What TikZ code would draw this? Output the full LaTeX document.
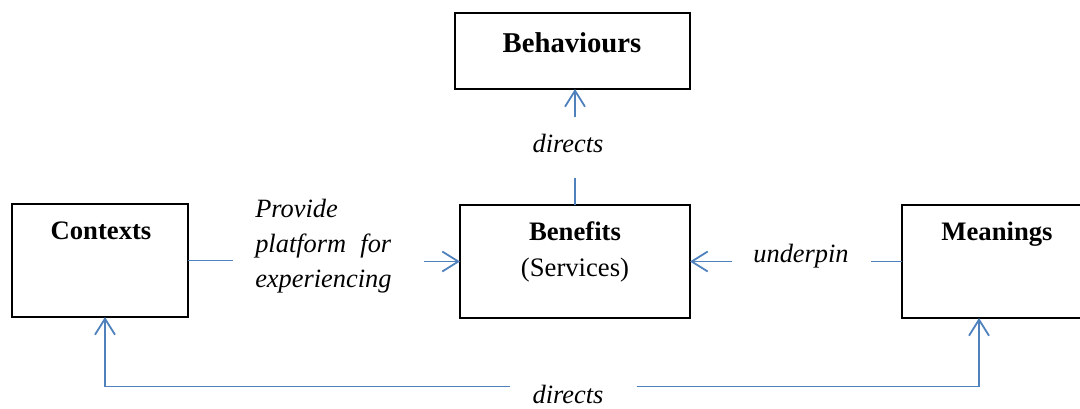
\documentclass[tikz,border=0pt]{standalone}
\usepackage{fontspec}
\setmainfont{Liberation Serif}
\usetikzlibrary{arrows.meta}
\definecolor{linkblue}{HTML}{4F81BD}
\begin{document}
\begin{tikzpicture}[x=0.75pt,y=-0.75pt,
  box/.style={draw=black,line width=1.1pt,inner sep=0pt,outer sep=0pt},
  btitle/.style={font=\fontsize{20pt}{24pt}\selectfont\bfseries,anchor=base,inner sep=0pt},
  plain/.style={font=\fontsize{20pt}{24pt}\selectfont,anchor=base,inner sep=0pt},
  lbl/.style={font=\fontsize{19.8pt}{26.25pt}\selectfont\itshape,anchor=base,inner sep=0pt},
  conn/.style={draw=linkblue,line width=1.35pt},
  arr/.style={conn,-{Straight Barb[length=12pt,width=15pt]}}]
\useasboundingbox (0,0) rectangle (1080,408);
\clip (0,0) rectangle (1080,408);
% boxes
\node[box,minimum width=176.25pt,minimum height=57pt] (beh) at (572.5,51) {};
\node[box,minimum width=132pt,minimum height=84.75pt] (ctx) at (100,260.5) {};
\node[box,minimum width=172.5pt,minimum height=84.75pt] (ben) at (575,261.5) {};
\node[box,minimum width=135pt,minimum height=84.75pt] (mea) at (992,261.5) {};
% box texts
\node[btitle,font=\fontsize{21.5pt}{24pt}\selectfont\bfseries] (behT) at (572,52) {Behaviours};
\node[btitle] (ctxT) at (101,239) {Contexts};
\node[btitle] (benT) at (575,240) {Benefits};
\node[plain] (benS) at (575,276) {(Services)};
\node[btitle] (meaT) at (997,240) {Meanings};
% labels
\node[lbl] (dirm) at (568,152) {directs};
\node[lbl] (und) at (801,262) {underpin};
\node[lbl,anchor=north west,text width=102pt,align=left] (prov) at (255,199)
  {Provide\\platform\hfill for\\experiencing};
\node[lbl] (dirb) at (568,403) {directs};
% connectors
\draw[conn,shorten >=16.5pt] (ctx.east) -- (ctx.east -| prov.west);
\draw[arr,shorten <=24pt] (ben.west -| prov.east) -- (ben.west);
\draw[conn,shorten >=18.75pt] (ben.north) -- (dirm.south -| ben.north);
\draw[arr,shorten <=12pt] (dirm.north -| ben.north) -- (beh.south -| ben.north);
\draw[conn,shorten >=16.5pt] (mea.west) -- (mea.west -| und.east);
\draw[arr,shorten <=15.75pt] (ben.east -| und.west) -- (ben.east);
\draw[arr] ([xshift=-16.5pt,yshift=-1.5pt]dirb.north west) -| ([xshift=3.75pt]ctx.south);
\draw[arr] ([xshift=24.75pt,yshift=-1.5pt]dirb.north east) -| ([xshift=-9.75pt]mea.south);
\end{tikzpicture}
\end{document}
